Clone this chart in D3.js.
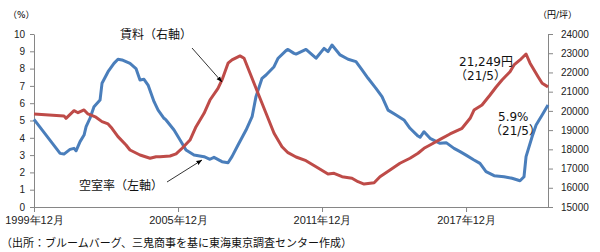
<!DOCTYPE html>
<html>
<head>
<meta charset="utf-8">
<script src="https://d3js.org/d3.v7.min.js"></script>
<style>
  body { margin: 0; background: #fff; }
  svg { display: block; font-family: "DejaVu Sans", "Noto Sans CJK JP", sans-serif; }
  .axis path, .axis line { stroke: #868686; }
  .axis text { fill: #222; font-size: 10px; }
  .note { font-size: 12px; fill: #111; }
</style>
</head>
<body>
<svg width="600" height="252"></svg>
<script>
// vacancy rate (%) - left axis
const vacancyDates = ["1999-12","2001-01","2001-03","2001-06","2001-08","2001-09","2001-11","2002-01","2002-02","2002-04",
  "2002-06","2002-09","2002-10","2003-01","2003-04","2003-06","2003-08","2003-12","2004-03","2004-05",
  "2004-07","2004-09","2004-12","2005-02","2005-05","2005-06","2005-10","2006-01","2006-04","2006-08",
  "2007-01","2007-04","2007-06","2007-10","2008-01","2008-03","2008-06","2008-10","2009-01","2009-03",
  "2009-06","2009-08","2009-12","2010-02","2010-06","2010-07","2010-10","2010-11","2011-04","2011-09",
  "2012-01","2012-03","2012-05","2012-09","2013-01","2013-05","2013-08","2013-11","2014-03","2014-06",
  "2014-09","2015-01","2015-05","2015-08","2015-12","2016-01","2016-03","2016-06","2016-11","2017-02",
  "2017-06","2017-09","2017-12","2018-04","2018-07","2018-10","2019-02","2019-07","2019-11","2020-03",
  "2020-05","2020-06","2020-09","2020-11","2021-02","2021-05"];
const vacancyValues = [5.07,3.1,3.06,3.33,3.39,3.25,3.78,4.16,4.64,5.13,
  5.8,6.18,7.15,7.82,8.3,8.54,8.5,8.3,8.0,7.34,
  7.38,7.05,6.09,5.6,5.13,5.03,4.45,3.87,3.29,3.0,
  2.91,2.76,2.87,2.62,2.56,2.91,3.58,4.45,5.22,6.38,
  7.44,7.63,8.11,8.6,9.04,9.11,8.88,8.84,9.11,8.6,
  9.17,8.98,9.36,8.79,8.54,8.4,7.92,7.44,6.86,6.38,
  5.6,5.32,5.03,4.55,4.1,4.03,4.35,3.97,3.68,3.72,
  3.39,3.2,3.0,2.72,2.52,2.04,1.81,1.75,1.66,1.52,
  1.75,2.91,4.06,4.74,5.32,5.9];

// rent (yen/tsubo) - right axis
const rentDates = ["1999-12","2001-03","2001-04","2001-08","2001-10","2002-01","2002-03","2002-07","2002-10","2003-01",
  "2003-03","2003-06","2003-10","2003-12","2004-05","2004-10","2005-01","2005-03","2005-08","2005-11",
  "2006-02","2006-06","2006-09","2007-01","2007-04","2007-08","2007-10","2008-01","2008-03","2008-07",
  "2008-09","2008-12","2009-04","2009-08","2009-12","2010-04","2010-07","2010-11","2011-04","2011-09",
  "2012-03","2012-06","2012-10","2013-03","2013-06","2013-09","2014-02","2014-05","2014-10","2015-03",
  "2015-08","2015-12","2016-03","2016-06","2016-11","2017-04","2017-10","2018-02","2018-04","2018-08",
  "2018-12","2019-03","2019-06","2019-10","2019-12","2020-03","2020-06","2020-08","2020-12","2021-02",
  "2021-05"];
const rentValues = [19840,19740,19615,20010,19905,20050,19840,19670,19440,19320,
  19095,18660,18225,17965,17705,17535,17615,17620,17655,17760,
  18055,18485,19180,19875,20565,21175,21610,22480,22650,22860,
  22740,21955,20915,19875,18835,18135,17825,17600,17410,17095,
  16715,16755,16575,16495,16315,16195,16265,16575,16925,17275,
  17535,17795,18055,18225,18520,18800,19095,19615,20045,20305,
  20825,21230,21610,22040,22390,22650,22960,22480,21780,21435,
  21249];

const xTicks = ["1999-12","2005-12","2011-12","2017-12"];
const leftTicks = [0,1,2,3,4,5,6,7,8,9,10];
const rightTicks = [15000,16000,17000,18000,19000,20000,21000,22000,23000,24000];

const parse = d3.timeParse("%Y-%m");
const svg = d3.select("svg");

const x = d3.scaleTime().domain([parse("1999-12"), parse("2021-05")]).range([34, 548]);
const yL = d3.scaleLinear().domain([0, 10]).range([207, 34]);
const yR = d3.scaleLinear().domain([15000, 24000]).range([207, 34]);

// axes
svg.append("g").attr("class", "axis").attr("transform", "translate(0,207)")
  .call(d3.axisBottom(x).tickValues(xTicks.map(parse)).tickSize(5).tickPadding(4).tickSizeOuter(0)
    .tickFormat(d3.timeFormat("%Y年%m月")))
  .selectAll("text").style("font-size", "11px");

svg.append("g").attr("class", "axis").attr("transform", "translate(34,0)")
  .call(d3.axisLeft(yL).tickValues(leftTicks).tickSize(4).tickPadding(5).tickSizeOuter(0));

svg.append("g").attr("class", "axis").attr("transform", "translate(548,0)")
  .call(d3.axisRight(yR).tickValues(rightTicks).tickSize(5).tickPadding(8).tickSizeOuter(0).tickFormat(d3.format("d")));

// lines
const vacancy = vacancyDates.map((d, i) => ({ date: parse(d), v: vacancyValues[i] }));
const rent = rentDates.map((d, i) => ({ date: parse(d), v: rentValues[i] }));

svg.append("path").datum(vacancy)
  .attr("fill", "none").attr("stroke", "#4a7ebb").attr("stroke-width", 3)
  .attr("stroke-linejoin", "round")
  .attr("d", d3.line().x(d => x(d.date)).y(d => yL(d.v)));

svg.append("path").datum(rent)
  .attr("fill", "none").attr("stroke", "#be4b48").attr("stroke-width", 3)
  .attr("stroke-linejoin", "round")
  .attr("d", d3.line().x(d => x(d.date)).y(d => yR(d.v)));

// unit labels
svg.append("text").attr("x", 8).attr("y", 18).style("font-size", "9px").text("（%）");
svg.append("text").attr("x", 538).attr("y", 18).style("font-size", "9px").text("（円/坪）");

// annotations
svg.append("defs").append("marker").attr("id", "arr")
  .attr("viewBox", "0 0 10 10").attr("refX", 10).attr("refY", 5)
  .attr("markerWidth", 7).attr("markerHeight", 7).attr("orient", "auto")
  .append("path").attr("d", "M0,1 L10,5 L0,9 z").attr("fill", "#000");

svg.append("text").attr("class", "note").attr("x", 120).attr("y", 39).text("賃料（右軸）");
svg.append("line").attr("x1", 192).attr("y1", 48).attr("x2", 222).attr("y2", 82)
  .attr("stroke", "#000").attr("stroke-width", 0.8).attr("marker-end", "url(#arr)");

svg.append("text").attr("class", "note").attr("x", 79).attr("y", 190).text("空室率（左軸）");
svg.append("line").attr("x1", 167).attr("y1", 182).attr("x2", 202).attr("y2", 160)
  .attr("stroke", "#000").attr("stroke-width", 0.8).attr("marker-end", "url(#arr)");

svg.append("text").attr("class", "note").attr("x", 459).attr("y", 66).text("21,249円");
svg.append("text").attr("class", "note").attr("x", 455).attr("y", 80).text("（21/5）");
svg.append("text").attr("class", "note").attr("x", 498).attr("y", 121).text("5.9%");
svg.append("text").attr("class", "note").attr("x", 490).attr("y", 135).text("（21/5）");

// source
svg.append("text").attr("x", 1).attr("y", 247).style("font-size", "11px").style("fill", "#111")
  .text("（出所：ブルームバーグ、三鬼商事を基に東海東京調査センター作成）");
</script>
</body>
</html>
